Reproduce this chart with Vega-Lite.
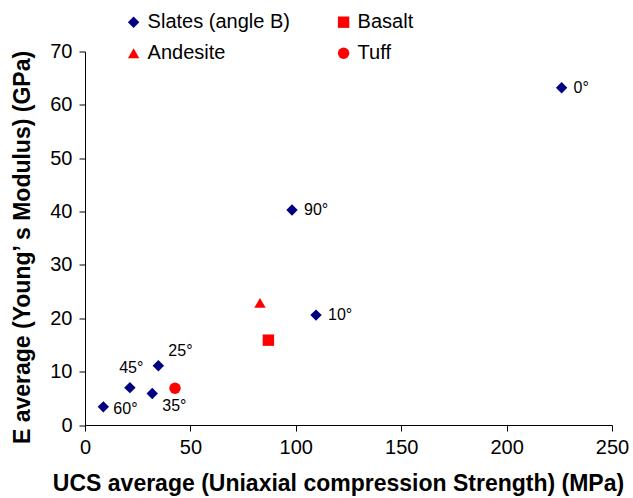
{
  "$schema": "https://vega.github.io/schema/vega-lite/v6.json",
  "width": 527,
  "height": 373.5,
  "autosize": {"type": "none"},
  "padding": {"left": 85, "top": 51.5, "right": 21, "bottom": 73},
  "background": "white",
  "config": {
    "view": {"stroke": null},
    "font": "Liberation Sans",
    "axis": {
      "grid": false,
      "domainColor": "black",
      "domainWidth": 1,
      "tickColor": "black",
      "tickWidth": 1,
      "tickSize": 6,
      "labelColor": "black",
      "labelFontSize": 20,
      "labelFont": "Liberation Sans",
      "titleColor": "black",
      "titleFont": "Liberation Sans",
      "titleFontSize": 23,
      "titleFontWeight": "bold",
      "labelFlush": false,
      "labelOverlap": false
    }
  },
  "data": {
    "values": [
      {"Type": "Slates (angle B)", "UCS": 226.1, "E": 63.2, "Label": "0°"},
      {"Type": "Slates (angle B)", "UCS": 98.2, "E": 40.3, "Label": "90°"},
      {"Type": "Slates (angle B)", "UCS": 109.6, "E": 20.6, "Label": "10°"},
      {"Type": "Slates (angle B)", "UCS": 34.8, "E": 11.1, "Label": "25°"},
      {"Type": "Slates (angle B)", "UCS": 21.3, "E": 7.0, "Label": "45°"},
      {"Type": "Slates (angle B)", "UCS": 31.9, "E": 5.9, "Label": "35°"},
      {"Type": "Slates (angle B)", "UCS": 8.7, "E": 3.4, "Label": "60°"},
      {"Type": "Andesite", "UCS": 83.0, "E": 22.9, "Label": ""},
      {"Type": "Basalt", "UCS": 87.0, "E": 15.9, "Label": ""},
      {"Type": "Tuff", "UCS": 42.7, "E": 6.9, "Label": ""}
    ]
  },
  "encoding": {
    "x": {
      "field": "UCS",
      "type": "quantitative",
      "scale": {"domain": [0, 250], "nice": false, "zero": true},
      "axis": {
        "title": "UCS average (Uniaxial compression Strength) (MPa)",
        "values": [0, 50, 100, 150, 200, 250],
        "labelPadding": 6,
        "titleX": 253,
        "titleY": 58,
        "titleAlign": "center",
        "titleBaseline": "middle",
        "titleAnchor": null
      }
    },
    "y": {
      "field": "E",
      "type": "quantitative",
      "scale": {"domain": [0, 70], "nice": false},
      "axis": {
        "title": "E average (Young’ s Modulus) (GPa)",
        "values": [0, 10, 20, 30, 40, 50, 60, 70],
        "labelPadding": 7,
        "titleX": -63,
        "titleY": 195.5,
        "titleAngle": 270,
        "titleAlign": "center",
        "titleBaseline": "middle"
      }
    }
  },
  "layer": [
    {
      "mark": {"type": "point", "filled": true, "size": 130, "opacity": 1},
      "encoding": {
        "shape": {
          "field": "Type",
          "type": "nominal",
          "scale": {
            "domain": ["Slates (angle B)", "Andesite", "Basalt", "Tuff"],
            "range": ["diamond", "triangle-up", "square", "circle"]
          },
          "legend": {
            "orient": "none",
            "legendX": 38.6,
            "legendY": -39.3,
            "columns": 2,
            "title": null,
            "padding": 0,
            "labelFontSize": 20,
            "labelFont": "Liberation Sans",
            "labelColor": "black",
            "symbolSize": 130,
            "symbolStrokeWidth": 0,
            "labelOffset": 4,
            "rowPadding": 11,
            "columnPadding": 43
          }
        },
        "color": {
          "field": "Type",
          "type": "nominal",
          "scale": {
            "domain": ["Slates (angle B)", "Andesite", "Basalt", "Tuff"],
            "range": ["#000080", "#FF0000", "#FF0000", "#FF0000"]
          }
        }
      }
    },
    {
      "transform": [{"filter": {"field": "Label", "oneOf": ["0°", "90°", "10°"]}}],
      "mark": {"type": "text", "align": "left", "baseline": "middle", "dx": 12, "dy": 0, "fontSize": 16, "color": "black"},
      "encoding": {"text": {"field": "Label"}}
    },
    {
      "transform": [{"filter": {"field": "Label", "equal": "25°"}}],
      "mark": {"type": "text", "align": "left", "baseline": "middle", "dx": 10, "dy": -15, "fontSize": 16, "color": "black"},
      "encoding": {"text": {"field": "Label"}}
    },
    {
      "transform": [{"filter": {"field": "Label", "equal": "45°"}}],
      "mark": {"type": "text", "align": "left", "baseline": "middle", "dx": -10.7, "dy": -19.7, "fontSize": 16, "color": "black"},
      "encoding": {"text": {"field": "Label"}}
    },
    {
      "transform": [{"filter": {"field": "Label", "equal": "35°"}}],
      "mark": {"type": "text", "align": "left", "baseline": "middle", "dx": 10, "dy": 12.7, "fontSize": 16, "color": "black"},
      "encoding": {"text": {"field": "Label"}}
    },
    {
      "transform": [{"filter": {"field": "Label", "equal": "60°"}}],
      "mark": {"type": "text", "align": "left", "baseline": "middle", "dx": 10, "dy": 2.6, "fontSize": 16, "color": "black"},
      "encoding": {"text": {"field": "Label"}}
    }
  ]
}
